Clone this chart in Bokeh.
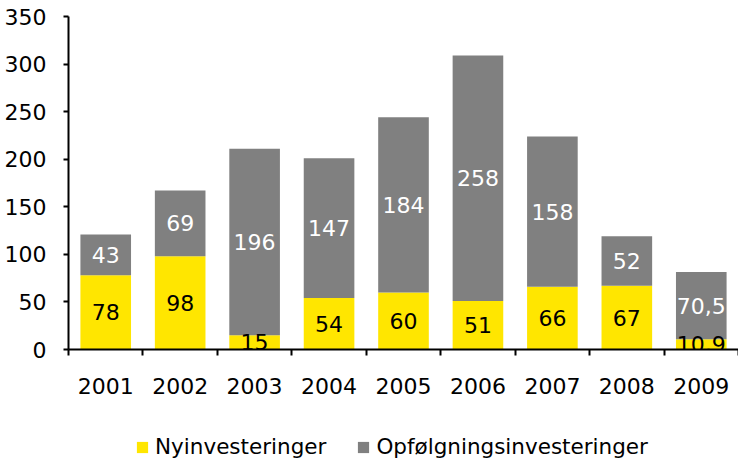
from bokeh.plotting import figure
from bokeh.layouts import column
from bokeh.models import (ColumnDataSource, FixedTicker, Range1d, Legend, LegendItem)
from bokeh.core.properties import value
from bokeh.embed import file_html
from bokeh.resources import INLINE

years = ["2001", "2002", "2003", "2004", "2005", "2006", "2007", "2008", "2009"]
nyinvest = [78, 98, 15, 54, 60, 51, 66, 67, 10.9]
opfolg = [43, 69, 196, 147, 184, 258, 158, 52, 70.5]
y_ticks = [0, 50, 100, 150, 200, 250, 300, 350]
series_names = ["Nyinvesteringer", "Opfølgningsinvesteringer"]

YELLOW = "#FFE600"
GRAY = "#808080"
FONT = "DejaVu Sans"

def fmt(v):
    return ("%g" % v).replace(".", ",")

xc = [i + 0.5 for i in range(len(years))]
tops = [a + b for a, b in zip(nyinvest, opfolg)]
src = ColumnDataSource(dict(
    x=xc, ny=nyinvest, op=opfolg, top=tops,
    ny_mid=[a / 2 for a in nyinvest],
    op_mid=[a + b / 2 for a, b in zip(nyinvest, opfolg)],
    ny_lab=[fmt(v) for v in nyinvest],
    op_lab=[fmt(v) for v in opfolg],
))

p = figure(width=738, height=433, output_backend="svg", toolbar_location=None,
           x_range=Range1d(0, len(years)), y_range=Range1d(0, 350),
           min_border_left=68, min_border_right=0, min_border_top=16,
           min_border_bottom=84)
p.outline_line_color = None
p.xgrid.grid_line_color = None
p.ygrid.grid_line_color = None

p.vbar(x="x", bottom=0, top="ny", width=0.68, source=src,
       fill_color=YELLOW, line_color=None)
p.vbar(x="x", bottom="ny", top="top", width=0.68, source=src,
       fill_color=GRAY, line_color=None)

p.text(x="x", y="ny_mid", text="ny_lab", source=src, text_align="center",
       text_baseline="middle", text_font=value(FONT), text_font_size="22px",
       text_color="black")
p.text(x="x", y="op_mid", text="op_lab", source=src, text_align="center",
       text_baseline="middle", text_font=value(FONT), text_font_size="22px",
       text_color="white")

# x axis: labels at category centres, tick marks between categories
p.xaxis.ticker = FixedTicker(ticks=xc, minor_ticks=list(range(len(years) + 1)))
p.xaxis.major_label_overrides = {x: y for x, y in zip(xc, years)}
p.xaxis.major_tick_line_color = None
p.xaxis.major_tick_in = 0
p.xaxis.major_tick_out = 6
p.xaxis.minor_tick_line_color = "black"
p.xaxis.minor_tick_line_width = 2
p.xaxis.minor_tick_in = 0
p.xaxis.minor_tick_out = 6
p.xaxis.major_label_standoff = 22
p.xaxis.axis_line_width = 2
p.xaxis.axis_line_color = "black"
p.xaxis.major_label_text_font = FONT
p.xaxis.major_label_text_font_size = "22px"
p.xaxis.major_label_text_color = "black"

# y axis
p.yaxis.ticker = FixedTicker(ticks=y_ticks)
p.yaxis.minor_tick_line_color = None
p.yaxis.major_tick_in = 0
p.yaxis.major_tick_out = 5
p.yaxis.major_tick_line_width = 2
p.yaxis.axis_line_width = 2
p.yaxis.axis_line_color = "black"
p.yaxis.major_label_standoff = 17
p.yaxis.major_label_text_font = FONT
p.yaxis.major_label_text_font_size = "22px"
p.yaxis.major_label_text_color = "black"

# legend in its own strip below the chart (swatch renderers sit outside the
# visible range; only their legend glyphs are seen)
lg = figure(width=738, height=26, output_backend="svg", toolbar_location=None,
            x_axis_type=None, y_axis_type=None,
            x_range=Range1d(0, 1), y_range=Range1d(0, 1),
            min_border_left=0, min_border_right=0, min_border_top=0,
            min_border_bottom=0)
lg.outline_line_color = None
lg.xgrid.grid_line_color = None
lg.ygrid.grid_line_color = None
g1 = lg.quad(left=[5], right=[6], bottom=[5], top=[6],
             fill_color=YELLOW, line_color=None)
g2 = lg.quad(left=[5], right=[6], bottom=[5], top=[6],
             fill_color=GRAY, line_color=None)
legend = Legend(items=[LegendItem(label=series_names[0], renderers=[g1]),
                       LegendItem(label=series_names[1], renderers=[g2])],
                orientation="horizontal", location=(67, 0),
                label_text_font=FONT, label_text_font_size="21.5px",
                label_text_color="black",
                glyph_width=14, glyph_height=14, spacing=30, label_standoff=6,
                border_line_color=None, background_fill_alpha=0,
                margin=0, padding=0)
lg.add_layout(legend, "center")

layout = column(p, lg, spacing=0)
open("out.html", "w").write(file_html(layout, INLINE))
